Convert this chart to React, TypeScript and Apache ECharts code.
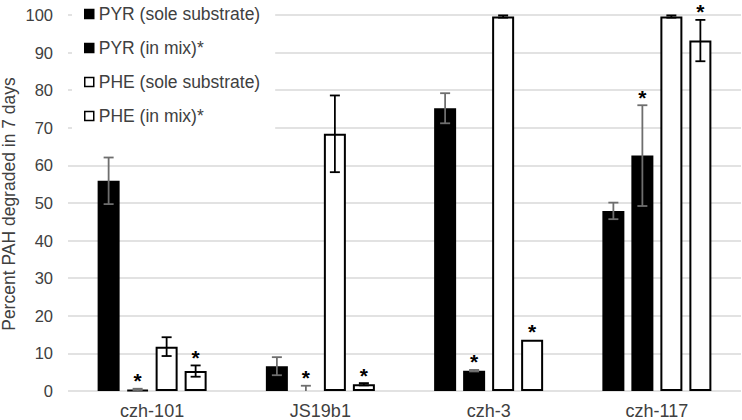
import React, { useEffect, useRef } from 'react';
import * as echarts from 'echarts';

const categories = ['czh-101', 'JS19b1', 'czh-3', 'czh-117'];
const seriesNames = ['PYR (sole substrate)', 'PYR (in mix)*', 'PHE (sole substrate)', 'PHE (in mix)*'];

const pyrSole = [55.9, 6.6, 75.2, 47.9];
const pyrSoleErr = [6.2, 2.4, 4.0, 2.2];
const pyrMix = [0.3, 0, 5.4, 62.6];
const pyrMixErr = [0.3, 1.4, 0.2, 13.4];
const pheSole = [11.8, 68.4, 99.6, 99.6];
const pheSoleErr = [2.5, 10.2, 0.3, 0.3];
const pheMix = [5.3, 1.8, 13.6, 93.2];
const pheMixErr = [1.5, 0.3, 0, 5.5];

const yMin = 0;
const yMax = 100;
const yInterval = 10;
const yTitle = 'Percent PAH degraded in 7 days';

// series marked with an asterisk ("in mix")
const asteriskSeries = [1, 3];

const values = [pyrSole, pyrMix, pheSole, pheMix];
const errors = [pyrSoleErr, pyrMixErr, pheSoleErr, pheMixErr];
const fills = ['#000000', '#000000', '#ffffff', '#ffffff'];
const errColors = ['#6e6e6e', '#6e6e6e', '#000000', '#000000'];

const FONT = '"Liberation Sans", Arial, sans-serif';
const TEXT_COLOR = '#404040';
const BAR_W = 22;
const PITCH = 29;

export default function App() {
  const ref = useRef<HTMLDivElement>(null);
  useEffect(() => {
    if (!ref.current) return;
    const chart = echarts.init(ref.current, undefined, { renderer: 'svg' });

    const barSeries = values.map((vals, si) => ({
      type: 'bar',
      name: seriesNames[si],
      barWidth: BAR_W,
      barGap: ((PITCH - BAR_W) / BAR_W * 100).toFixed(2) + '%',
      data: vals.map((v) => ({
        value: v,
        itemStyle: v === 0 ? { borderWidth: 0 } : undefined,
      })),
      itemStyle: { color: fills[si], borderColor: '#000000', borderWidth: 2 },
      z: 2,
    }));

    const errData: any[] = [];
    values.forEach((vals, si) => {
      vals.forEach((v, ci) => {
        errData.push([ci, si, v, errors[si][ci]]);
      });
    });

    const starData: any[] = [];
    asteriskSeries.forEach((si) => {
      values[si].forEach((v, ci) => {
        starData.push([ci, si, v + errors[si][ci]]);
      });
    });

    const option: any = {
      animation: false,
      grid: { left: 68, right: 1, top: 15, bottom: 29, containLabel: false },
      legend: {
        orient: 'vertical',
        left: 72,
        top: 0,
        itemWidth: 9,
        itemHeight: 9,
        itemGap: 16,
        padding: [5, 15, 9, 12],
        backgroundColor: '#ffffff',
        icon: 'rect',
        textStyle: { fontSize: 17.5, color: TEXT_COLOR, fontFamily: FONT, lineHeight: 18 },
        data: seriesNames.map((n, si) => ({
          name: n,
          itemStyle: { color: fills[si], borderColor: '#000000', borderWidth: 1.5 },
        })),
      },
      xAxis: {
        type: 'category',
        data: categories,
        axisLine: { show: false },
        axisTick: { show: false },
        axisLabel: { fontSize: 18, color: TEXT_COLOR, fontFamily: FONT, margin: 11 },
      },
      yAxis: {
        type: 'value',
        min: yMin,
        max: yMax,
        interval: yInterval,
        axisLine: { show: false },
        axisTick: { show: false },
        axisLabel: { fontSize: 16.5, color: TEXT_COLOR, fontFamily: FONT, margin: 15 },
        splitLine: { lineStyle: { color: '#d9d9d9', width: 1.5 } },
      },
      graphic: [
        {
          type: 'text',
          x: 9,
          y: 204,
          rotation: Math.PI / 2,
          style: {
            text: yTitle,
            fontSize: 17.5,
            fontFamily: FONT,
            fill: TEXT_COLOR,
            textAlign: 'center',
            textVerticalAlign: 'middle',
          },
        },
      ],
      series: [
        ...barSeries,
        {
          type: 'custom',
          name: 'err',
          z: 5,
          data: errData,
          renderItem: (params: any, api: any) => {
            const ci = api.value(0);
            const si = api.value(1);
            const v = api.value(2);
            const e = api.value(3);
            if (!e) return null;
            const cx = api.coord([ci, 0])[0] + (si - 1.5) * PITCH;
            const hi = api.coord([ci, v + e])[1];
            const lowVal = v - e;
            const lo = api.coord([ci, Math.max(0, lowVal)])[1];
            const style = { stroke: errColors[si], lineWidth: 1.8 };
            const children: any[] = [
              { type: 'line', shape: { x1: cx, y1: lo, x2: cx, y2: hi }, style },
              { type: 'line', shape: { x1: cx - 5, y1: hi, x2: cx + 5, y2: hi }, style },
            ];
            if (lowVal >= 0) {
              children.push({ type: 'line', shape: { x1: cx - 5, y1: lo, x2: cx + 5, y2: lo }, style });
            }
            return { type: 'group', children };
          },
        },
        {
          type: 'custom',
          name: 'stars',
          z: 6,
          data: starData,
          renderItem: (params: any, api: any) => {
            const ci = api.value(0);
            const si = api.value(1);
            const top = api.value(2);
            const cx = api.coord([ci, 0])[0] + (si - 1.5) * PITCH;
            const y = api.coord([ci, top])[1];
            return {
              type: 'text',
              x: cx,
              y: y - 8,
              style: {
                text: '*',
                fontSize: 21,
                fontWeight: 'bold',
                fontFamily: FONT,
                fill: '#000000',
                textAlign: 'center',
                textVerticalAlign: 'middle',
              },
            };
          },
        },
      ],
    };
    chart.setOption(option);
    return () => chart.dispose();
  }, []);
  return (
    <div
      ref={ref}
      style={{ position: 'fixed', left: 0, top: 0, width: 742, height: 420, background: '#ffffff' }}
    />
  );
}
